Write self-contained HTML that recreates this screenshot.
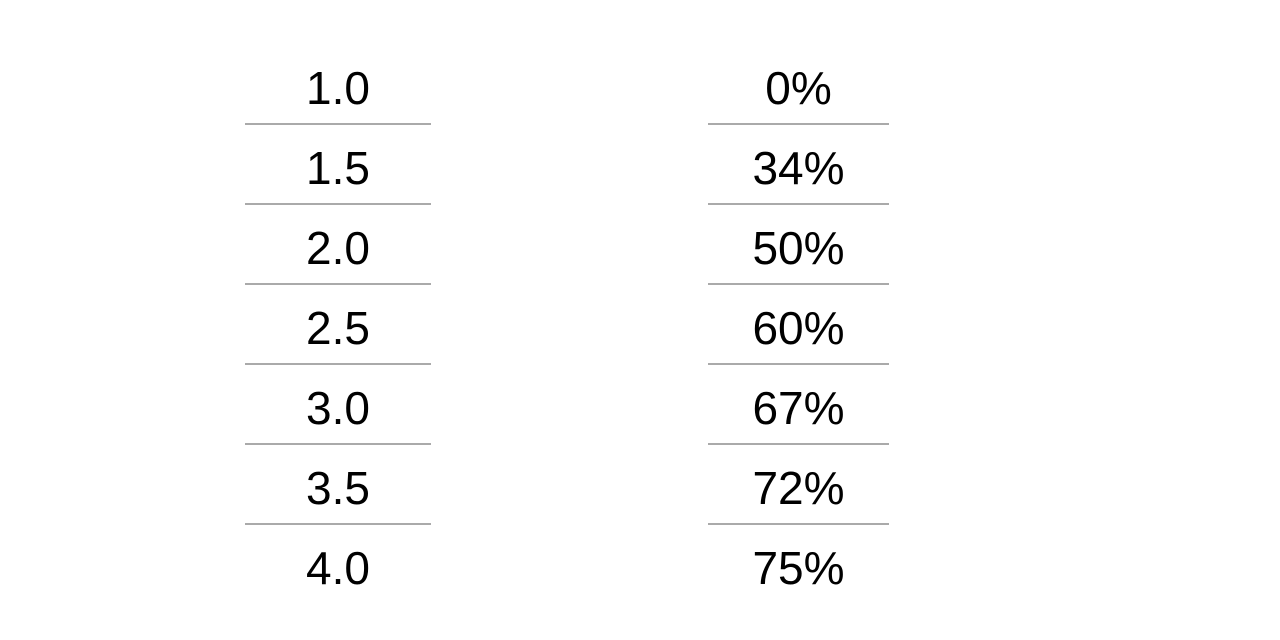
<!DOCTYPE html>
<html><head><meta charset="utf-8">
<style>
html,body{margin:0;padding:0;background:#fff;width:1280px;height:640px;overflow:hidden}
#t{position:absolute;left:0;top:0;width:1280px;height:640px}
.cell{position:absolute;font-family:"Liberation Sans","DejaVu Sans",sans-serif;font-size:46px;color:#000;text-align:center;line-height:80px;height:80px}
.rule{position:absolute;height:2px;background:#aaa}
</style></head>
<body>
<div id="t"></div>
<script>
const leftValues = ["1.0","1.5","2.0","2.5","3.0","3.5","4.0"];
const rightValues = ["0%","34%","50%","60%","67%","72%","75%"];
const t = document.getElementById('t');
const rowH = 80, top0 = 48;
const cols = [{x:245,w:186,vals:leftValues,name:'left'},{x:708,w:181,vals:rightValues,name:'right'}];
cols.forEach(c=>{
  c.vals.forEach((v,i)=>{
    const d=document.createElement('div');
    d.className='cell';
    
    
    d.style.left=c.x+'px';d.style.width=c.w+'px';d.style.top=(top0+i*rowH)+'px';
    d.textContent=v;t.appendChild(d);
    if(i<c.vals.length-1){
      const r=document.createElement('div');
      r.className='rule';
      
      
      r.style.left=c.x+'px';r.style.width=c.w+'px';r.style.top=(top0+(i+1)*rowH-5)+'px';
      t.appendChild(r);
    }
  });
});
</script>
</body></html>
